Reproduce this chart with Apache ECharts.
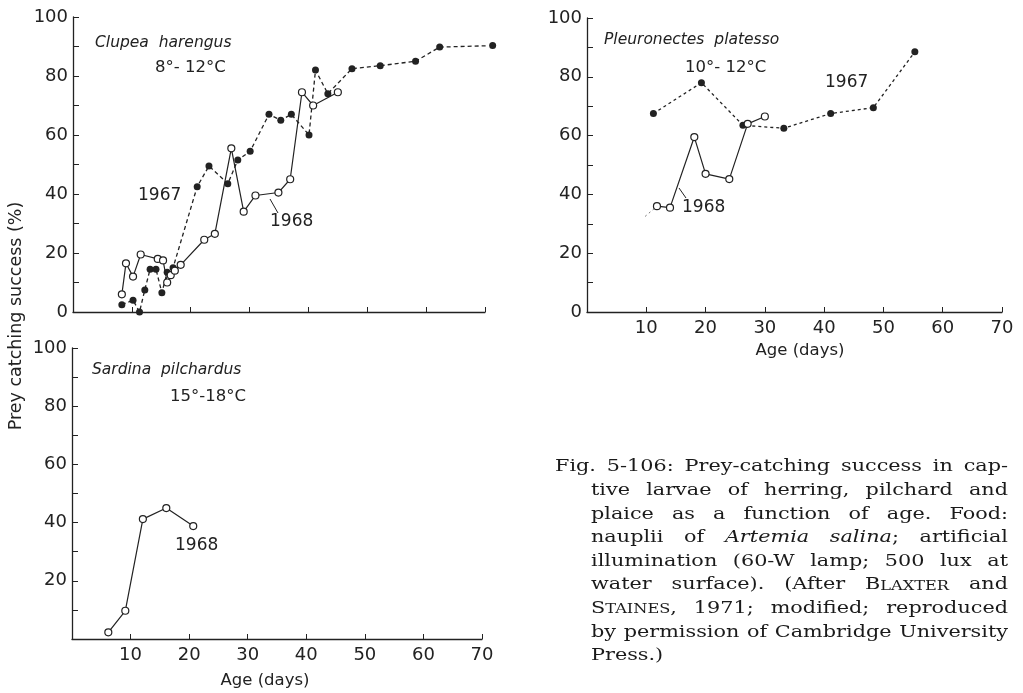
<!DOCTYPE html>
<html>
<head>
<meta charset="utf-8">
<script src="https://cdn.jsdelivr.net/npm/echarts@6/dist/echarts.min.js"></script>
<style>
html,body{margin:0;padding:0;background:#fff;}
#chart{width:1023px;height:693px;}
</style>
</head>
<body>
<div id="chart"></div>
<script>
// ---------- DATA ----------
const xTicks = [0, 10, 20, 30, 40, 50, 60, 70];
const yTicks = [0, 20, 40, 60, 80, 100];

// Clupea harengus (herring), 8-12 C
const clupea1967 = [
  [8.3, 2.5], [10.2, 4], [11.3, 0], [12.2, 7.5], [13.1, 14.5], [14.1, 14.5],
  [15.1, 6.5], [16.0, 13.5], [17.0, 15], [21.1, 42.5], [23.1, 49.5], [26.3, 43.5],
  [28.0, 51.5], [30.1, 54.5], [33.3, 67], [35.3, 65], [37.1, 67], [40.1, 60],
  [41.2, 82], [43.3, 74], [47.4, 82.5], [52.2, 83.5], [58.2, 85], [62.3, 89.8], [71.3, 90.3]
];
const clupea1968 = [
  [8.3, 6], [9.0, 16.5], [10.2, 12], [11.5, 19.5], [14.4, 18], [15.3, 17.5],
  [16.0, 10], [16.6, 12.5], [17.3, 14], [18.3, 16], [22.3, 24.5], [24.1, 26.5],
  [26.9, 55.5], [29.0, 34], [31.0, 39.5], [34.9, 40.5], [36.9, 45], [38.9, 74.5],
  [40.8, 70], [45.0, 74.5]
];

// Pleuronectes platessa (plaice), 10-12 C
const pleuro1967 = [
  [11.2, 67.5], [19.3, 78], [26.3, 63.5], [33.2, 62.5], [41.1, 67.5], [48.3, 69.5], [55.3, 88.5]
];
const pleuro1968 = [
  [11.8, 36], [14.0, 35.5], [18.1, 59.5], [20.0, 47], [24.0, 45.2], [27.1, 64], [30.0, 66.5]
];
const pleuro1968Fragment = [[9.8, 32.5], [11.8, 36]];

// Sardina pilchardus (pilchard), 15-18 C
const sardina1968 = [
  [6.2, 2.3], [9.1, 9.7], [12.1, 41.2], [16.1, 45], [20.7, 38.8]
];

const panelTitles = ['Clupea  harengus', 'Pleuronectes  platesso', 'Sardina  pilchardus'];
const panelTemps = ['8°- 12°C', '10°- 12°C', '15°-18°C'];
const yAxisTitle = 'Prey catching success (%)';
const xAxisTitle = 'Age (days)';

const captionLines = [
  'Fig. 5-106: Prey-catching success in cap-',
  'tive larvae of herring, pilchard and',
  'plaice as a function of age. Food:',
  'nauplii of *Artemia* *salina*; artificial',
  'illumination (60-W lamp; 500 lux at',
  'water surface). (After B{LAXTER} and',
  'S{TAINES}, 1971; modified; reproduced',
  'by permission of Cambridge University',
  'Press.)'
];

// ---------- STYLE ----------
const INK = '#222';
const sansFont = '"DejaVu Sans", sans-serif';
const serifFont = '"DejaVu Serif", serif';

const chart = echarts.init(document.getElementById('chart'), null, {renderer: 'canvas'});

function makeX(idx, showLabels) {
  return {
    type: 'value', gridIndex: idx, min: xTicks[0], max: xTicks[xTicks.length - 1], interval: 10,
    axisLine: {lineStyle: {color: INK, width: 1.3}},
    axisTick: {inside: true, length: 5, lineStyle: {color: INK, width: 1}},
    splitLine: {show: false},
    axisLabel: {
      show: showLabels, margin: 7, color: INK, fontFamily: sansFont, fontSize: 18,
      formatter: v => (v === 0 ? '' : String(v))
    }
  };
}
function makeY(idx, showZero) {
  return {
    type: 'value', gridIndex: idx, min: yTicks[0], max: yTicks[yTicks.length - 1], interval: 10,
    axisLine: {show: true, lineStyle: {color: INK, width: 1.3}},
    axisTick: {show: true, inside: true, length: 6, lineStyle: {color: INK, width: 1}},
    splitLine: {show: false},
    axisLabel: {
      margin: 5, color: INK, fontFamily: sansFont, fontSize: 18,
      formatter: v => (yTicks.indexOf(v) >= 0 && (v !== 0 || showZero) ? String(v) : '')
    }
  };
}

function openSeries(data, xi) {
  return {
    type: 'line', xAxisIndex: xi, yAxisIndex: xi, data: data,
    symbol: 'circle', symbolSize: 7, showSymbol: true, clip: false, animation: false,
    lineStyle: {color: INK, width: 1.2, type: 'solid'},
    itemStyle: {color: '#fff', borderColor: INK, borderWidth: 1.2},
    z: 3
  };
}
function filledSeries(data, xi, dash) {
  return {
    type: 'line', xAxisIndex: xi, yAxisIndex: xi, data: data,
    symbol: 'circle', symbolSize: 7, showSymbol: true, clip: false, animation: false,
    lineStyle: {color: INK, width: 1.3, type: dash},
    itemStyle: {color: INK, borderColor: INK, borderWidth: 0},
    z: 2
  };
}

// ---------- CAPTION (justified, horizontally widened serif) ----------
const measureCtx = document.createElement('canvas').getContext('2d');
const capRight = 1008;
const capLeftFirst = 555, capLeftRest = 591;
const capSize = 17;
const scRatio = 0.78;
function lineLeft(i) { return i === 0 ? capLeftFirst : capLeftRest; }
function parseWord(word) {
  const segs = [];
  const re = /\*([^*]+)\*|\{([^}]+)\}|([^*{]+)/g;
  let m;
  while ((m = re.exec(word)) !== null) {
    if (m[1] !== undefined) segs.push({kind: 'i', text: m[1]});
    else if (m[2] !== undefined) segs.push({kind: 'sc', text: m[2]});
    else segs.push({kind: 'n', text: m[3]});
  }
  return segs;
}
function segFont(kind) {
  if (kind === 'i') return 'italic ' + capSize + 'px ' + serifFont;
  if (kind === 'sc') return (capSize * scRatio) + 'px ' + serifFont;
  return capSize + 'px ' + serifFont;
}
const parsedLines = captionLines.map(l => l.split(' ').map(parseWord));
parsedLines.forEach(words => words.forEach(ws => ws.forEach(s => {
  measureCtx.font = segFont(s.kind); s.w = measureCtx.measureText(s.text).width;
})));
measureCtx.font = capSize + 'px ' + serifFont;
const spaceW = measureCtx.measureText(' ').width;
// horizontal scale so the tightest justified line fits its measure with ordinary spaces
let sx = 10;
parsedLines.forEach((words, i) => {
  if (i === parsedLines.length - 1) return;
  const nat = words.reduce((a, ws) => a + ws.reduce((b, s) => b + s.w, 0), 0) + spaceW * (words.length - 1);
  sx = Math.min(sx, (capRight - lineLeft(i)) / nat);
});
sx = sx * 0.99;
const captionGraphics = [];
parsedLines.forEach((words, i) => {
  const left = lineLeft(i);
  const baseline = 473 + i * 23.6;
  const total = words.reduce((a, ws) => a + ws.reduce((b, s) => b + s.w * sx, 0), 0);
  const justify = i < parsedLines.length - 1;
  const gap = justify && words.length > 1 ? (capRight - left - total) / (words.length - 1) : spaceW * sx;
  let x = left;
  words.forEach(ws => {
    ws.forEach(s => {
      const fs = s.kind === 'sc' ? capSize * scRatio : capSize;
      captionGraphics.push({
        type: 'text', x: x, y: baseline - 0.35 * fs, scaleX: sx, scaleY: 1,
        style: {
          text: s.text, fill: '#1a1a1a', fontFamily: serifFont, fontSize: fs,
          fontStyle: s.kind === 'i' ? 'italic' : 'normal',
          align: 'left', textAlign: 'left', verticalAlign: 'middle', textVerticalAlign: 'middle'
        }
      });
      x += s.w * sx;
    });
    x += gap;
  });
});

// ---------- ANNOTATIONS ----------
function txt(x, y, text, size, italic, align) {
  return {
    type: 'text', x: x, y: y,
    style: {
      text: text, fill: INK, fontFamily: sansFont, fontSize: size,
      fontStyle: italic ? 'italic' : 'normal',
      align: align || 'left', textAlign: align || 'left',
      verticalAlign: 'middle', textVerticalAlign: 'middle'
    }
  };
}
const annotations = [
  txt(95, 43, panelTitles[0], 15.5, true),
  txt(155, 68, panelTemps[0], 16.5, false),
  txt(138, 196, '1967', 17, false),
  txt(270, 222, '1968', 17, false),
  {type: 'line', shape: {x1: 270, y1: 199, x2: 278, y2: 213}, style: {stroke: INK, lineWidth: 1}},

  txt(604, 40, panelTitles[1], 15.5, true),
  txt(685, 68, panelTemps[1], 16.5, false),
  txt(825, 83, '1967', 17, false),
  txt(682, 208, '1968', 17, false),
  {type: 'line', shape: {x1: 679, y1: 188, x2: 686, y2: 198}, style: {stroke: INK, lineWidth: 1}},

  txt(92, 370, panelTitles[2], 15.5, true),
  txt(170, 397, panelTemps[2], 16.5, false),
  txt(175, 546, '1968', 17, false),

  {
    type: 'text', x: 16, y: 316, rotation: Math.PI / 2,
    style: {
      text: yAxisTitle, fill: INK, fontFamily: sansFont, fontSize: 17.5,
      align: 'center', textAlign: 'center', verticalAlign: 'middle', textVerticalAlign: 'middle'
    }
  },
  txt(800, 351, xAxisTitle, 16.5, false, 'center'),
  txt(265, 681, xAxisTitle, 16.5, false, 'center')
];

const option = {
  backgroundColor: '#fff',
  animation: false,
  grid: [
    {left: 73, top: 17, width: 412, height: 295},
    {left: 587, top: 18, width: 415, height: 294},
    {left: 72, top: 348, width: 410, height: 291}
  ],
  xAxis: [makeX(0, false), makeX(1, true), makeX(2, true)],
  yAxis: [makeY(0, true), makeY(1, true), makeY(2, false)],
  series: [
    filledSeries(clupea1967, 0, [4, 3]),
    openSeries(clupea1968, 0),
    filledSeries(pleuro1967, 1, [3, 3]),
    openSeries(pleuro1968, 1),
    {
      type: 'line', xAxisIndex: 1, yAxisIndex: 1, data: pleuro1968Fragment, showSymbol: false,
      symbol: 'none', animation: false, lineStyle: {color: '#777', width: 1, type: [2, 3]}
    },
    openSeries(sardina1968, 2)
  ],
  graphic: annotations.concat(captionGraphics)
};
chart.setOption(option);
</script>
</body>
</html>
